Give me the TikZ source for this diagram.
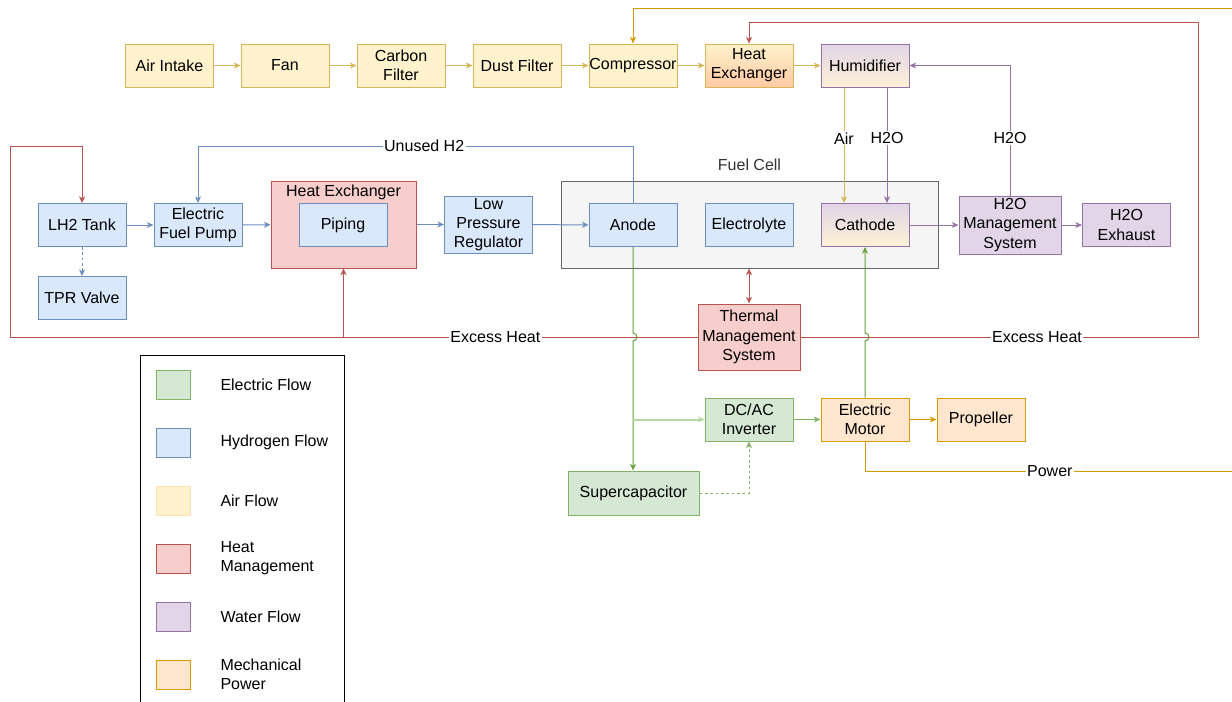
\documentclass[tikz,border=0pt]{standalone}
\usepackage{fontspec}
\setmainfont{Liberation Sans}
\usetikzlibrary{arrows.meta}
\definecolor{amarilloF}{HTML}{FFF2CC}\definecolor{amarilloL}{HTML}{D6B656}
\definecolor{azulF}{HTML}{DAE8FC}\definecolor{azulL}{HTML}{6C8EBF}
\definecolor{rojoF}{HTML}{F8CECC}\definecolor{rojoL}{HTML}{B85450}
\definecolor{moradoF}{HTML}{E1D5E7}\definecolor{moradoL}{HTML}{9673A6}
\definecolor{verdeF}{HTML}{D5E8D4}\definecolor{verdeL}{HTML}{82B366}
\definecolor{verdeO}{HTML}{6A9E3A}\definecolor{verdeC}{HTML}{B9D8A6}
\definecolor{naranjaF}{HTML}{FFE6CC}\definecolor{naranjaL}{HTML}{D79B00}
\definecolor{salmon}{HTML}{FFC9A3}\definecolor{cremaF}{HTML}{FDF1D6}
\definecolor{grisF}{HTML}{F5F5F5}\definecolor{grisL}{HTML}{666666}\definecolor{grisT}{HTML}{333333}
\definecolor{amarilloLL}{HTML}{FFE2B3}
\begin{document}
\begin{tikzpicture}[x=0.75pt, y=-0.75pt, line width=0.75pt,
  font=\fontsize{12}{14.4}\selectfont,
  caja/.style={draw, rectangle, minimum width=66pt, minimum height=32.25pt, inner sep=0pt, align=center},
  aire/.style={caja, fill=amarilloF, draw=amarilloL},
  hidro/.style={caja, fill=azulF, draw=azulL},
  calor/.style={caja, fill=rojoF, draw=rojoL},
  agua/.style={caja, fill=moradoF, draw=moradoL},
  elec/.style={caja, fill=verdeF, draw=verdeL},
  mec/.style={caja, fill=naranjaF, draw=naranjaL},
  flecha/.style={-{Stealth[length=5pt,width=4.5pt,inset=1.5pt]}},
  etiqueta/.style={fill=white, text=black, inner sep=1pt}]
  \useasboundingbox (0,0) rectangle (1232,701);
  % la fila del aire
  \node[aire] (intake) at (169.5,65.5) {Air Intake};
  \node[aire] (fan) at (285,65.5) {Fan};
  \node[aire] (carbon) at (401,65.5) {Carbon\\Filter};
  \node[aire] (dust) at (517,65.5) {Dust Filter};
  \node[aire] (comp) at (633,65.5) {Compressor};
  \node[aire, top color=amarilloF, bottom color=salmon] (hx) at (749,65.5) {Heat\\Exchanger};
  \node[agua, top color=moradoF, bottom color=cremaF] (humid) at (865,65.5) {Humidifier};
  \foreach \a/\b in {intake/fan, fan/carbon, carbon/dust, dust/comp, comp/hx, hx/humid} {
    \draw[amarilloL, flecha] (\a) -- (\b);
  }
  % la pila de combustible
  \node[draw=grisL, fill=grisF, minimum width=282.75pt, minimum height=65.25pt] (fc) at (749.5,224.5) {};
  \node[text=grisT] (fclbl) at (749.5,165) {Fuel Cell};
  \node[hidro] (anode) at (633,225) {Anode};
  \node[hidro] (electrolyte) at (749,225) {Electrolyte};
  \node[agua, top color=moradoF, bottom color=cremaF] (cathode) at (865,225) {Cathode};
  % la linea del hidrogeno
  \node[hidro] (lh2) at (82,225) {LH2 Tank};
  \node[hidro] (tpr) at (82,298) {TPR Valve};
  \node[hidro] (pump) at (198,225) {Electric\\Fuel Pump};
  \node[calor, minimum width=108.75pt, minimum height=65.25pt] (hxo) at (343.5,224.5) {};
  \node (hxlbl) at (343.5,192) {Heat Exchanger};
  \node[hidro] (piping) at (343,225) {Piping};
  \node[hidro, minimum height=42.75pt] (lpr) at (488.5,224.5) {Low\\Pressure\\Regulator};
  \draw[azulL, flecha] (lh2) -- (pump);
  \draw[azulL, flecha] (pump) -- (hxo);
  \draw[azulL, flecha] (hxo) -- (lpr);
  \draw[azulL, flecha] (lpr) -- (anode);
  \draw[azulL, flecha, dash pattern=on 2pt off 2pt] (lh2) -- (tpr);
  \coordinate (unusedT) at (633,146);
  \draw[azulL, flecha] (anode.north) -- (unusedT) -| node[etiqueta, pos=0.24] (unusedlbl) {Unused H2} (pump.north);
  % el agua
  \node[agua, minimum width=76.5pt, minimum height=43.5pt] (h2om) at (1010,225) {H2O\\Management\\System};
  \node[agua] (exhaust) at (1126.5,225) {H2O\\Exhaust};
  \coordinate (airx) at (844,0);
  \coordinate (h2ox) at (887,0);
  \draw[amarilloL, flecha] (humid.south -| airx) -- node[etiqueta, pos=0.44] (airlbl) {Air} (cathode.north -| airx);
  \draw[moradoL, flecha] (humid.south -| h2ox) -- node[etiqueta, pos=0.44] (h2olbl) {H2O} (cathode.north -| h2ox);
  \draw[moradoL, flecha] (h2om.north) |- node[etiqueta, pos=0.22] (h2oret) {H2O} (humid.east);
  \draw[moradoL, flecha] (cathode) -- (h2om);
  \draw[moradoL, flecha] (h2om) -- (exhaust);
  % el calor sobrante
  \node[calor, minimum width=76.5pt, minimum height=49.5pt] (thermal) at (749,337) {Thermal\\Management\\System};
  \draw[rojoL, {Stealth[length=5pt,width=4.5pt,inset=1.5pt]}-{Stealth[length=5pt,width=4.5pt,inset=1.5pt]}] (thermal.north) -- (thermal.north |- fc.south);
  \coordinate (heatR) at (1198,337);
  \coordinate (heatRT) at (1198,22);
  \coordinate (heatL) at (10,337);
  \coordinate (heatLT) at (10,146);
  \draw[rojoL, flecha] (thermal.east) -- node[etiqueta, pos=0.595] (exhR) {Excess Heat} (heatR) -- (heatRT) -| (hx.north);
  \draw[rojoL, flecha] (thermal.west) -- node[etiqueta, pos=0.294] (exhL) {Excess Heat} (heatL) -- (heatLT) -| (lh2.north);
  \draw[rojoL, flecha] (hxo.south |- heatL) -- (hxo.south);
  % lo electrico y lo mecanico
  \node[elec] (dcac) at (749,419.5) {DC/AC\\Inverter};
  \node[mec] (motor) at (865,419.5) {Electric\\Motor};
  \node[mec] (prop) at (981,419.5) {Propeller};
  \node[elec, minimum width=98.25pt, minimum height=33pt] (supercap) at (633.5,493) {Supercapacitor};
  \draw[verdeO, flecha] (anode.south) -- (633,333) arc[start angle=90, end angle=-90, radius=3pt] -- (supercap.north -| anode.south);
  \draw[verdeC, line width=1.5pt, flecha] (anode.south |- dcac.west) -- (dcac.west);
  \draw[verdeL, flecha] (dcac) -- (motor);
  \draw[naranjaL, flecha] (motor) -- (prop);
  \draw[verdeO, flecha] (motor.north) -- (865,341) arc[start angle=-90, end angle=90, radius=3pt] -- (cathode.south);
  \draw[verdeL, flecha, dash pattern=on 2pt off 2pt] (supercap.east) -| (dcac.south);
  \coordinate (pwrR) at (1250,471);
  \coordinate (pwrT) at (1250,8);
  \draw[naranjaL, flecha] (motor.south) |- node[etiqueta, pos=0.74] (pwrlbl) {Power} (pwrR) -- (pwrT) -| (comp.north);
  % la leyenda
  \draw (140,355) rectangle (344,720);
  \foreach \i/\y/\estilo/\texto in {1/384.5/elec/Electric Flow, 2/442.5/hidro/Hydrogen Flow,
      3/500.5/aire/Air Flow, 4/558.5/calor/Heat\\Management, 5/616.5/agua/Water Flow, 6/674.5/mec/Mechanical\\Power} {
    \node[\estilo, minimum width=25.5pt, minimum height=21.75pt] (sw\i) at (173,\y) {};
    \node[anchor=west, align=left, inner sep=0pt] (ley\i) at (220,\y) {\texto};
  }
  \node[draw=amarilloLL, fill=amarilloF, minimum width=25.5pt, minimum height=21.75pt] (sw3b) at (173,500.5) {};
\end{tikzpicture}
\end{document}
